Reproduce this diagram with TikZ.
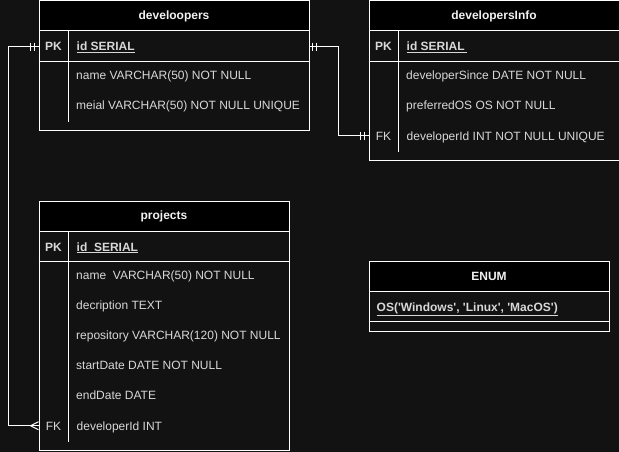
\documentclass[tikz,border=0pt]{standalone}
\usepackage{fontspec}
\setmainfont{Liberation Sans}
\usetikzlibrary{positioning}
\definecolor{CanvasBg}{HTML}{121212}
\definecolor{HeadText}{HTML}{F2F2F2}
\definecolor{RowText}{HTML}{D8D8D8}
\definecolor{EdgeCol}{HTML}{FFFFFF}
\newcommand{\sq}{\textquotesingle}

\tikzset{
  tblbox/.style={draw=EdgeCol, line width=1pt, anchor=north west, inner sep=0pt},
  tblhead/.style={draw=EdgeCol, fill=black, line width=1pt, anchor=north west,
    minimum height=30pt, inner sep=0pt, text=HeadText,
    font=\fontsize{12}{14}\selectfont\bfseries},
  keyrow/.style={anchor=north west, minimum height=30pt, inner sep=0pt},
  keytxt/.style={text=RowText, inner sep=0pt, text height=8.6pt, text depth=0pt,
    font=\fontsize{12}{14}\selectfont},
  rowtxt/.style={keytxt, anchor=west},
  boldtxt/.style={font=\fontsize{12}{14}\selectfont\bfseries},
  sepline/.style={draw=EdgeCol, line width=1pt},
  rel/.style={draw=EdgeCol, line width=1pt},
}

\begin{document}
\begin{tikzpicture}[x=1pt,y=-1pt]
  \fill[CanvasBg] (0,0) rectangle (619,452);
  \useasboundingbox (0,0) rectangle (619,452);

  \node[tblbox, minimum width=270pt, minimum height=129.5pt] (dev) at (38.5,0.5) {};
  \node[tblhead, minimum width=270pt] (devHead) at (dev.north west) {develoopers};
  \node[keyrow, minimum width=270pt] (devPK) at (devHead.south west) {};
  \draw[sepline] (devPK.south west) -- (devPK.south east);
  \draw[sepline] ([xshift=30pt]devHead.south west) -- ++(0,90);
  \node[keytxt, boldtxt] (devPKlbl) at ([xshift=15pt]devPK.west) {PK};
  \node[rowtxt, boldtxt] (devId) at ([xshift=38pt]devPK.west) {\underline{id SERIAL}};
  \node[rowtxt] (devName) at (76,75) {name VARCHAR(50) NOT NULL};
  \node[rowtxt] (devMail) at (76,105) {meial VARCHAR(50) NOT NULL UNIQUE};

  \node[tblbox, minimum width=250pt, minimum height=159.5pt] (info) at (368.5,0.5) {};
  \node[tblhead, minimum width=250pt] (infoHead) at (info.north west) {developersInfo};
  \node[keyrow, minimum width=250pt] (infoPK) at (infoHead.south west) {};
  \draw[sepline] (infoPK.south west) -- (infoPK.south east);
  \draw[sepline] ([xshift=30pt]infoHead.south west) -- ++(0,120);
  \node[keytxt, boldtxt] (infoPKlbl) at ([xshift=15pt]infoPK.west) {PK};
  \node[rowtxt, boldtxt] (infoId) at ([xshift=38pt]infoPK.west) {\underline{id SERIAL\,}};
  \node[rowtxt] (infoSince) at (406,75) {developerSince DATE NOT NULL};
  \node[rowtxt] (infoOS) at (406,105) {preferredOS OS NOT NULL};
  \node[keyrow, minimum width=250pt] (infoFK) at (368.5,120.5) {};
  \node[keytxt] (infoFKlbl) at ([xshift=15pt]infoFK.west) {FK};
  \node[rowtxt] (infoDev) at ([xshift=38pt]infoFK.west) {developerId INT NOT NULL UNIQUE};

  \node[tblbox, minimum width=250pt, minimum height=249pt] (proj) at (38.5,200.5) {};
  \node[tblhead, minimum width=250pt] (projHead) at (proj.north west) {projects};
  \node[keyrow, minimum width=250pt] (projPK) at (projHead.south west) {};
  \draw[sepline] (projPK.south west) -- (projPK.south east);
  \draw[sepline] ([xshift=30pt]projHead.south west) -- ++(0,210);
  \node[keytxt, boldtxt] (projPKlbl) at ([xshift=15pt]projPK.west) {PK};
  \node[rowtxt, boldtxt] (projId) at ([xshift=38pt]projPK.west) {\underline{id\ \ SERIAL}};
  \node[rowtxt] (projName) at (76,275) {name\ \ VARCHAR(50) NOT NULL};
  \node[rowtxt] (projDesc) at (76,305) {decription TEXT};
  \node[rowtxt] (projRepo) at (76,335) {repository VARCHAR(120) NOT NULL};
  \node[rowtxt] (projStart) at (76,365) {startDate DATE NOT NULL};
  \node[rowtxt] (projEnd) at (76,395) {endDate DATE};
  \node[keyrow, minimum width=250pt] (projFK) at (38.5,410.5) {};
  \node[keytxt] (projFKlbl) at ([xshift=15pt]projFK.west) {FK};
  \node[rowtxt] (projDev) at ([xshift=38pt]projFK.west) {developerId INT};

  \node[tblbox, minimum width=240pt, minimum height=70pt] (enum) at (368.5,260.5) {};
  \node[tblhead, minimum width=240pt] (enumHead) at (enum.north west) {ENUM};
  \node[keyrow, minimum width=240pt] (enumRow) at (enumHead.south west) {};
  \draw[sepline] (enumRow.south west) -- (enumRow.south east);
  \node[rowtxt, boldtxt] (enumOS) at ([xshift=8pt]enumRow.west)
    {\underline{OS(\sq Windows\sq, \sq Linux\sq, \sq MacOS\sq)}};

  \draw[rel] (devPK.west) -- ++(-30,0) |- (projFK.west);
  \draw[rel] (devPK.east) -- ++(30,0) |- (infoFK.west);
  \draw[rel] ([xshift=-8pt]devPK.west) ++(0,-4) -- ++(0,8)
             ([xshift=-4pt]devPK.west) ++(0,-4) -- ++(0,8);
  \draw[rel] ([xshift=4pt]devPK.east) ++(0,-4) -- ++(0,8)
             ([xshift=8pt]devPK.east) ++(0,-4) -- ++(0,8);
  \draw[rel] ([xshift=-8pt]infoFK.west) ++(0,-4) -- ++(0,8)
             ([xshift=-4pt]infoFK.west) ++(0,-4) -- ++(0,8);
  \draw[rel] ([xshift=-8pt]projFK.west) -- ++(8,-4)
             ([xshift=-8pt]projFK.west) -- ++(8,4);
\end{tikzpicture}
\end{document}
